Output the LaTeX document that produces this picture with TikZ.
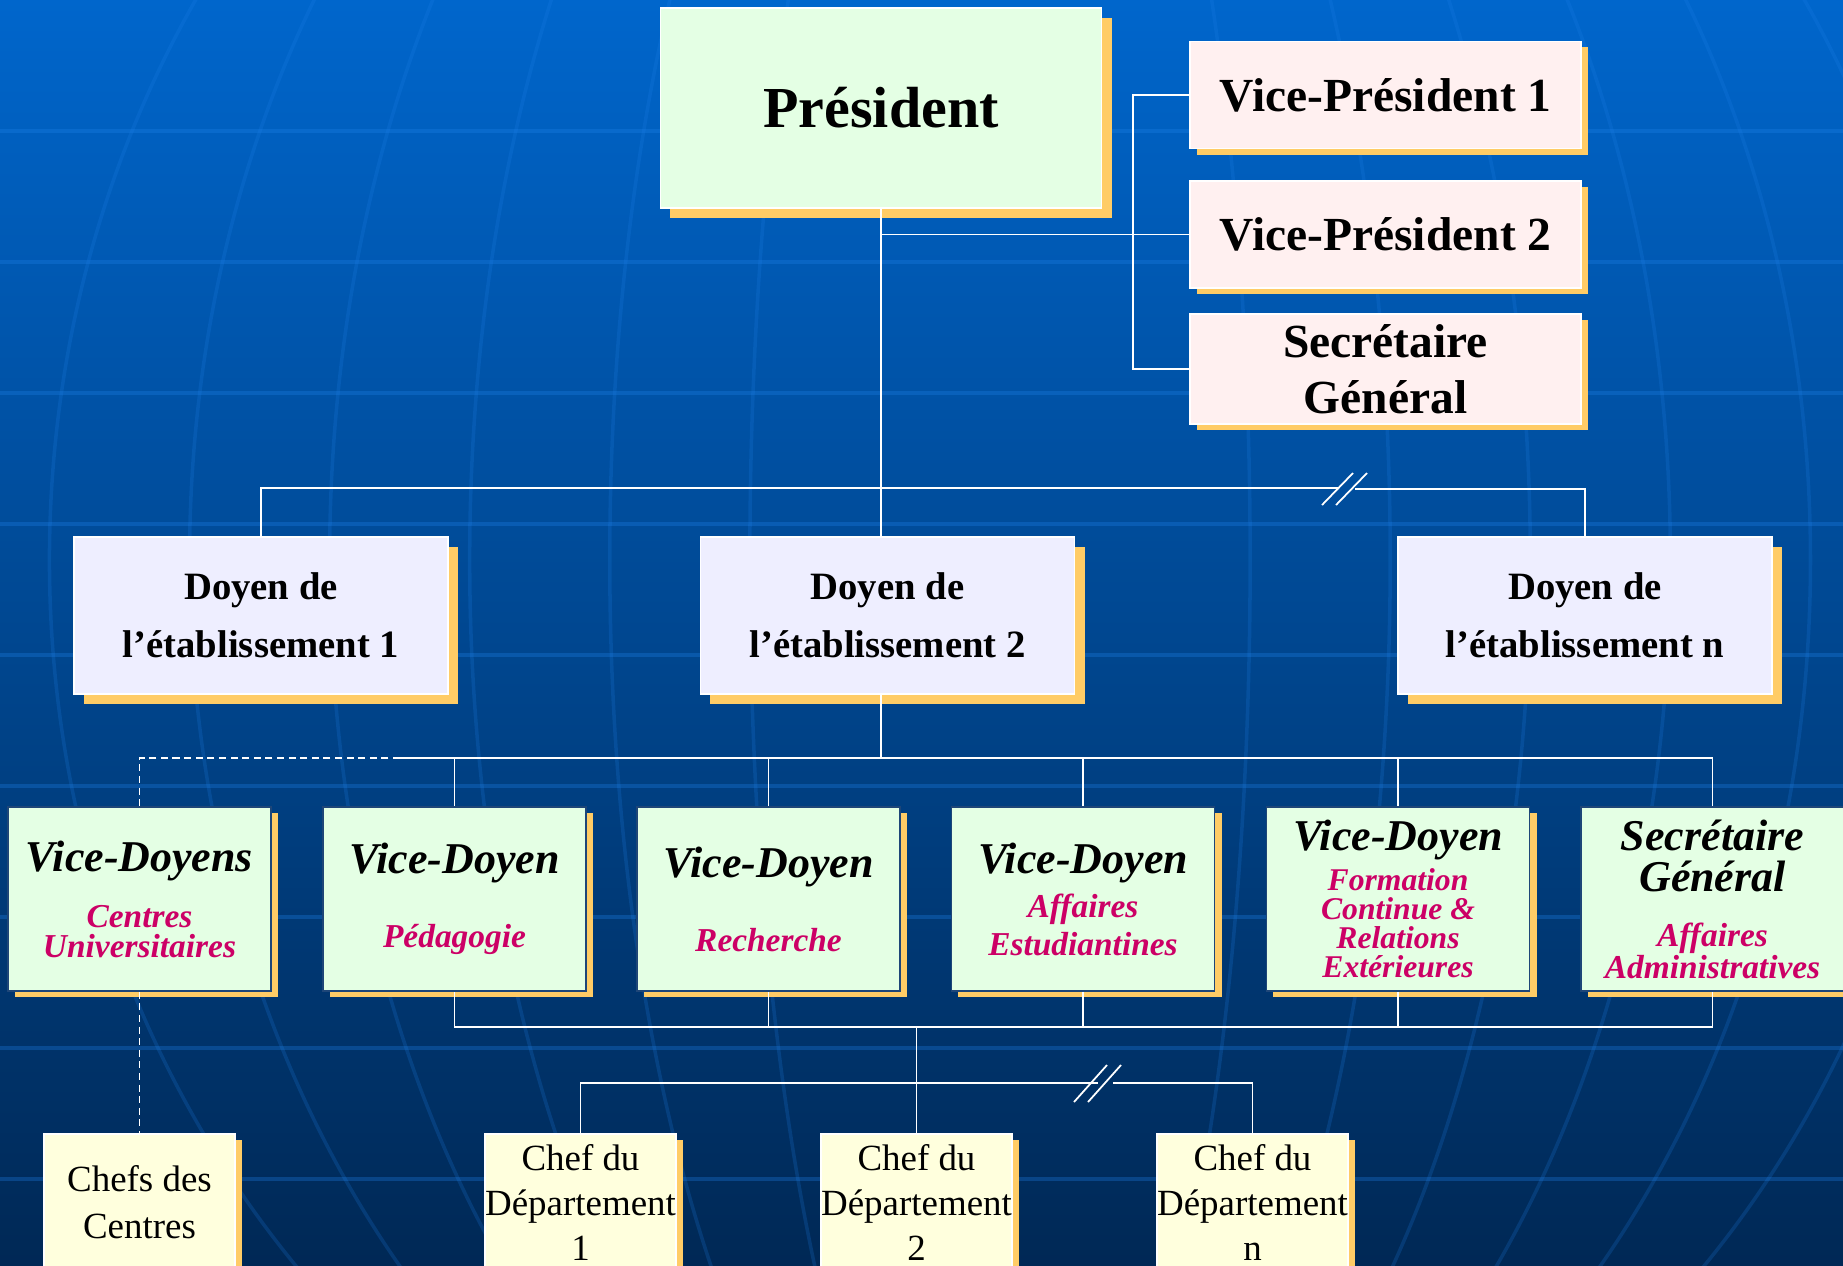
\documentclass[tikz,border=0pt]{standalone}
\usepackage{fontspec}
\setmainfont{Liberation Serif}
\usetikzlibrary{shadows}

\definecolor{vert}{RGB}{228,255,228}
\definecolor{rosepale}{RGB}{255,240,240}
\definecolor{lavande}{RGB}{238,238,255}
\definecolor{jaunepale}{RGB}{255,255,221}
\definecolor{ombre}{RGB}{255,204,102}
\definecolor{rose}{RGB}{204,0,102}
\definecolor{bordvd}{RGB}{30,70,120}
\definecolor{fondhaut}{RGB}{0,102,204}
\definecolor{fondbas}{RGB}{0,40,85}
\definecolor{lignefond}{RGB}{30,130,235}

\newcommand\titrevd[1]{{\color{black}\fontsize{12.5}{0}\selectfont #1}}

\tikzset{
  boite/.style={draw=white, line width=0.4pt, align=center, inner sep=0pt,
    execute at begin node={\lineskiplimit=-100pt\lineskip=0pt}},
  grandeombre/.style={drop shadow={shadow xshift=0.1cm, shadow yshift=-0.1cm, fill=ombre, opacity=1}},
  petiteombre/.style={drop shadow={shadow xshift=0.07cm, shadow yshift=-0.06cm, fill=ombre, opacity=1}},
  president/.style={boite, grandeombre, fill=vert, minimum width=4.41cm, minimum height=2cm,
    font=\fontsize{16.5}{20}\selectfont\bfseries},
  vicepres/.style={boite, petiteombre, fill=rosepale, minimum width=3.91cm, minimum height=1.07cm,
    font=\fontsize{13.5}{16}\selectfont\bfseries},
  doyen/.style={boite, grandeombre, fill=lavande, minimum width=3.74cm, minimum height=1.57cm,
    font=\fontsize{11}{16.5}\selectfont\bfseries},
  vicedoyen/.style={boite, petiteombre, draw=bordvd, fill=vert, minimum width=2.63cm, minimum height=1.84cm,
    font=\fontsize{9.5}{0}\selectfont\bfseries\itshape, text=rose},
  chef/.style={boite, petiteombre, fill=jaunepale, minimum width=1.91cm, minimum height=1.36cm,
    font=\fontsize{10.5}{12.8}\selectfont},
  lien/.style={draw=white, line width=0.5pt},
  pointille/.style={dash pattern=on 2pt off 1.3pt},
  trame/.style={draw=lignefond, line width=1pt, opacity=0.3},
  meridien/.style={draw=lignefond, line width=1pt, opacity=0.2},
}

\begin{document}
\begin{tikzpicture}[x=0.01cm,y=-0.01cm]
\useasboundingbox (0,0) rectangle (1843,1265);
\clip (0,0) rectangle (1843,1265);
% fond
\shade[top color=fondhaut, bottom color=fondbas] (0,0) rectangle (1843,1265);
\foreach \y in {131,262,...,1179}
  \draw[trame] (0,\y) -- (1843,\y);
\foreach \a in {2.5,3.9,5.3,6.7,8.1,9.5}
  \draw[meridien] (1000,560) ellipse [x radius=\a cm, y radius=10.5cm];

% direction
\node[president] (pres) at (881,108) {Président};
\node[vicepres] (vp1) at (1385.5,95) {Vice-Président 1};
\node[vicepres] (vp2) at (1385.5,234.5) {Vice-Président 2};
\node[vicepres, minimum height=1.1cm] (sg) at (1385.5,369) {Secrétaire\\Général};

% doyens
\node[doyen] (doy1) at (261,615.5) {Doyen de\\l’établissement 1};
\node[doyen] (doy2) at (887.5,615.5) {Doyen de\\l’établissement 2};
\node[doyen] (doy3) at (1585,615.5) {Doyen de\\l’établissement n};

% vice-doyens
\node[vicedoyen] (vd1) at (139.5,899) {\titrevd{Vice-Doyens}\\[16pt]Centres\\[8.5pt]Universitaires};
\node[vicedoyen] (vd2) at (454.5,899) {\titrevd{Vice-Doyen}\\[21pt]Pédagogie};
\node[vicedoyen] (vd3) at (768.5,899) {\titrevd{Vice-Doyen}\\[21pt]Recherche};
\node[vicedoyen] (vd4) at (1083,899) {\titrevd{Vice-Doyen}\\[12.5pt]Affaires\\[10.8pt]Estudiantines};
\node[vicedoyen, font=\fontsize{9}{0}\selectfont\bfseries\itshape] (vd5) at (1398,899)
  {\titrevd{Vice-Doyen}\\[11.4pt]Formation\\[8.2pt]Continue \&\\[8.2pt]Relations\\[8.2pt]Extérieures};
\node[vicedoyen] (vd6) at (1712.5,899) {\titrevd{Secrétaire}\\[11.7pt]\titrevd{Général}\\[15.6pt]Affaires\\[9.1pt]Administratives};

% chefs
\node[chef, font=\fontsize{10.5}{13.4}\selectfont] (centres) at (139.5,1202) {Chefs des\\Centres};
\node[chef] (chef1) at (580.5,1202) {Chef du\\Département\\1};
\node[chef] (chef2) at (916.5,1202) {Chef du\\Département\\2};
\node[chef] (chefn) at (1252.5,1202) {Chef du\\Département\\n};

% liens du haut
\draw[lien] (pres.south) -- (pres.south |- doy2.north);
\draw[lien] (pres.south |- vp2.west) -- (vp2.west);
\draw[lien] (vp1.west) -- ++(-56,0) |- (sg.west);
\coordinate (coupeA) at (1338,488);
\coordinate (coupeB) at (1355,489);
\draw[lien] (doy1.north) |- (coupeA);
\draw[lien] (coupeB) -| (doy3.north);
\foreach \dx in {0,14}
  \draw[lien] (1322+\dx,505) -- ++(31,-32); % coupure

% liens des vice-doyens
\coordinate (busvd) at (881,758);
\coordinate (coupeC) at (400,758);
\draw[lien] (pres.south |- doy2.south) -- (busvd);
\draw[lien] (coupeC) -| (vd6.north);
\draw[lien, pointille] (coupeC) -| (vd1.north);
\foreach \n in {2,...,5}
  \draw[lien] (vd\n.north |- busvd) -- (vd\n.north);
\coordinate (busbas) at (916.5,1027);
\draw[lien] (vd2.south) |- (busbas) -| (vd6.south);
\foreach \n in {3,4,5}
  \draw[lien] (vd\n.south) -- (vd\n.south |- busbas);
\draw[lien, pointille] (vd1.south) -- (centres.north);

% liens des chefs
\draw[lien] (busbas) -- (chef2.north);
\coordinate (coupeD) at (1098,1083);
\coordinate (coupeE) at (1113,1083);
\draw[lien] (chef1.north) |- (coupeD);
\draw[lien] (coupeE) -| (chefn.north);
\foreach \dx in {0,14}
  \draw[lien] (1074+\dx,1102) -- ++(33,-37); % coupure
\end{tikzpicture}
\end{document}
